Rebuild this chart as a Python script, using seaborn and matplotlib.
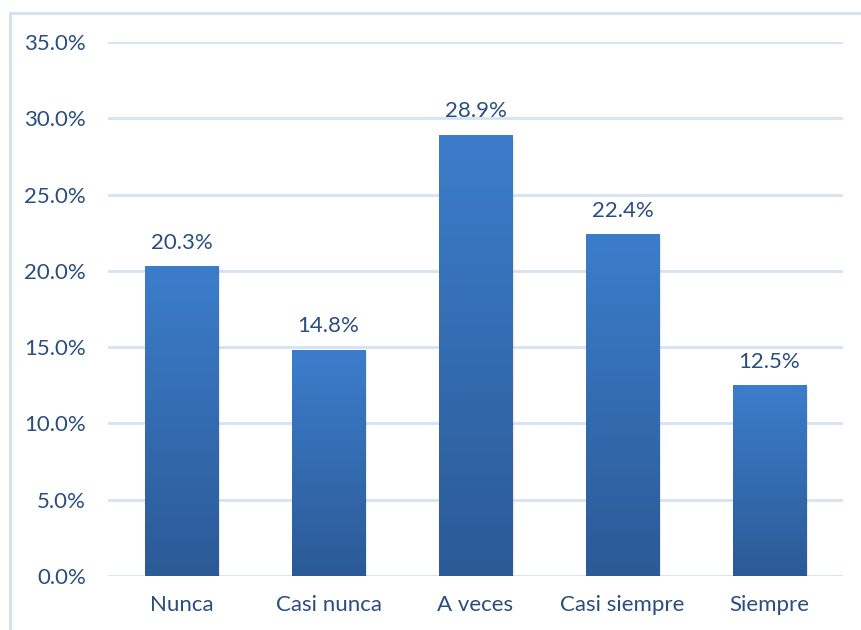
import matplotlib
matplotlib.use("Agg")
import matplotlib.pyplot as plt
import seaborn as sns
import numpy as np
import pandas as pd
from matplotlib.colors import LinearSegmentedColormap
from matplotlib.lines import Line2D

categories = ["Nunca", "Casi nunca", "A veces", "Casi siempre", "Siempre"]
values = [20.3, 14.8, 28.9, 22.4, 12.5]
yticks = [0, 5, 10, 15, 20, 25, 30, 35]

sns.set_theme(style="white")
plt.rcParams['font.family'] = ['Lato', 'DejaVu Sans']
txt = '#2A4E80'

df = pd.DataFrame({"cat": categories, "val": values})
fig = plt.figure(figsize=(8.61, 6.3), dpi=100)
ax = fig.add_axes([108/861, 1-576/630, (843-108)/861, (576-42)/630])
sns.barplot(data=df, x="cat", y="val", ax=ax, color="#3A78C4", width=0.503, saturation=1)

ax.set_ylim(0, 35)
ax.set_xlim(-0.5, 4.5)
ax.set_yticks(yticks)
ax.set_yticklabels([f"{v:.1f}%" for v in yticks])
ax.yaxis.grid(True, color='#D5E2F2', linewidth=2)
ax.set_axisbelow(True)
for s in ax.spines.values():
    s.set_visible(False)
ax.set_xlabel("")
ax.set_ylabel("")
ax.tick_params(axis='both', length=0, labelsize=16, colors=txt)
ax.tick_params(axis='y', pad=16)
ax.tick_params(axis='x', pad=14)

cmap = LinearSegmentedColormap.from_list("g", ["#2B5A96", "#3C7DCB"])
grad = np.linspace(0, 1, 256).reshape(-1, 1)
for p, v in zip(ax.patches, values):
    x0, w = p.get_x(), p.get_width()
    sh = plt.Rectangle((x0 + 0.012, 0), w, v - 0.1, color='#000000', alpha=0.08, zorder=1.5, lw=0)
    ax.add_patch(sh)
    p.set_facecolor('none')
    p.set_edgecolor('none')
    ax.imshow(grad, extent=[x0, x0 + w, 0, v], origin='lower', cmap=cmap,
              aspect='auto', zorder=2)
    ax.text(x0 + w / 2, v + 0.9, f"{v:.1f}%", ha='center', va='bottom',
            fontsize=16, color=txt, zorder=3)
ax.set_xlim(-0.5, 4.5)
ax.set_ylim(0, 35)

fig.add_artist(Line2D([9.5/861, 9.5/861], [0, 1-13/630], transform=fig.transFigure, color='#D3E1F1', lw=2))
fig.add_artist(Line2D([9.5/861, 1], [1-13/630, 1-13/630], transform=fig.transFigure, color='#D3E1F1', lw=2))

fig.savefig("out.png", dpi=100)
